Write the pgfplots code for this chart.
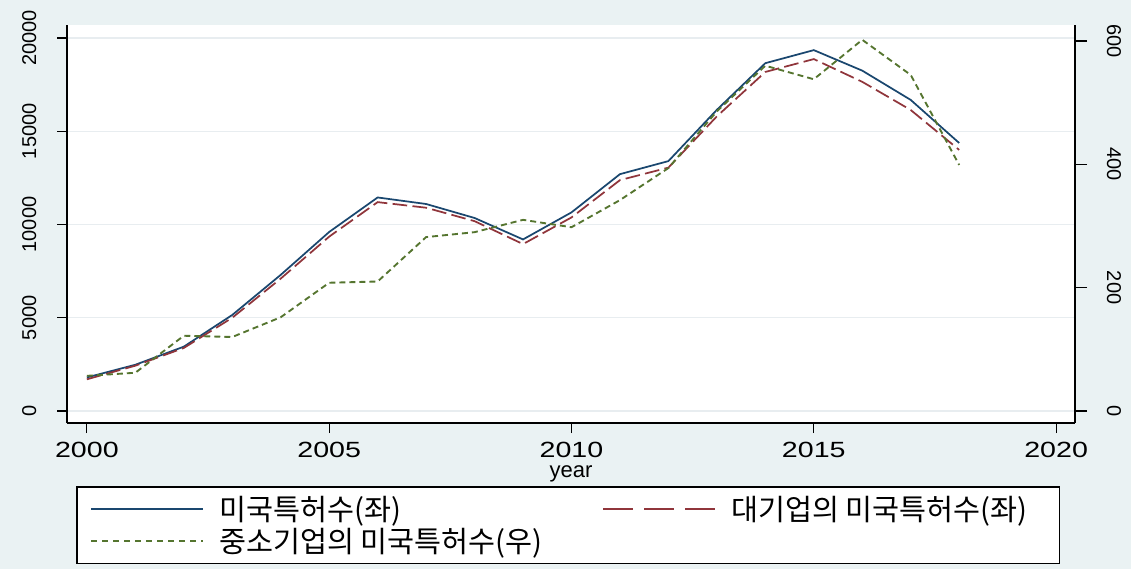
\documentclass[border=0pt]{standalone}
\usepackage{fontspec}
\setmainfont{Liberation Sans}
\newfontfamily\widefont[FakeStretch=1.3]{Liberation Sans}
\newfontfamily\kr{Noto Sans CJK KR}
\usepackage{pgfplots}
\usepackage{pgfplotstable}
\pgfplotsset{compat=1.18}
\definecolor{bg}{RGB}{234,242,243}
\definecolor{sblue}{RGB}{26,71,111}
\definecolor{sred}{RGB}{144,53,59}
\definecolor{sgreen}{RGB}{85,117,47}
\definecolor{gridc}{RGB}{232,237,240}

\pgfplotsset{
  legblue/.style={legend image code/.code={\draw[draw=sblue, line width=1.4pt] (0pt,0pt) -- (84pt,0pt); \path (96pt,0pt);}},
  legred/.style={legend image code/.code={\draw[draw=sred, line width=1.4pt, dash pattern=on 22.5pt off 8.25pt] (0pt,0pt) -- (84pt,0pt); \path (96pt,0pt);}},
  leggreen/.style={legend image code/.code={\draw[draw=sgreen, line width=1.4pt, dash pattern=on 4.5pt off 3.75pt] (0pt,0pt) -- (84pt,0pt); \path (96pt,0pt);}},
}

\pgfplotstableread{
year us big sme
2000 1800 1700 57
2001 2480 2430 62
2002 3450 3380 122
2003 5150 5000 120
2004 7300 7100 152
2005 9600 9350 208
2006 11450 11200 210
2007 11100 10900 282
2008 10350 10180 290
2009 9200 8950 310
2010 10650 10380 298
2011 12700 12380 342
2012 13400 13050 394
2013 16150 15800 486
2014 18650 18180 560
2015 19350 18870 538
2016 18250 17650 602
2017 16680 16140 545
2018 14370 14000 399
}\data

\begin{document}
\begin{tikzpicture}
\fill[bg] (-50.25pt,-109.5pt) rectangle (798pt,317.25pt);
\begin{axis}[
  scale only axis, width=756pt, height=298.5pt,
  xmin=1999.59, xmax=2020.39, ymin=-643, ymax=20697,
  axis x line*=bottom, axis y line*=left,
  axis background/.style={fill=white},
  axis line style={black, line width=0.9pt},
  tick align=outside, major tick length=7.5pt,
  tick style={black, line width=0.9pt},
  xtick={2000,2005,2010,2015,2020},
  ytick={0,5000,10000,15000,20000},
  scaled y ticks=false, scaled x ticks=false,
  ymajorgrids, grid style={gridc, line width=1pt},
  /pgf/number format/1000 sep={},
  /pgf/number format/assume math mode=true,
  xticklabel style={font=\widefont\fontsize{16.5}{18}\selectfont},
  xticklabel shift=3pt,
  yticklabel style={rotate=90, anchor=south, font=\fontsize{15}{18}\selectfont},
  yticklabel shift=12pt,
  xlabel={year},
  xlabel style={font=\fontsize{16.5}{18}\selectfont, at={(axis description cs:0.5,-0.137)}, anchor=base},
]
\addplot[sblue, line width=1.3pt] table[x=year,y=us]{\data};
\addplot[sred, line width=1.3pt, dash pattern=on 11pt off 4pt] table[x=year,y=big]{\data};
\end{axis}
\begin{axis}[
  scale only axis, width=756pt, height=298.5pt,
  xmin=1999.59, xmax=2020.39, ymin=-19.5, ymax=626,
  axis x line=none, axis y line*=right,
  axis line style={black, line width=0.9pt},
  tick align=outside, major tick length=9pt,
  tick style={black, line width=0.9pt},
  ytick={0,200,400,600},
  scaled y ticks=false,
  /pgf/number format/1000 sep={},
  /pgf/number format/assume math mode=true,
  yticklabel style={rotate=-90, anchor=south, font=\fontsize{15}{18}\selectfont},
  yticklabel shift=11.5pt,
  legend columns=2,
  legend cell align=left,
  legend style={at={(axis description cs:0.00992,-0.1608)}, anchor=north west,
    name=leg, draw=none, fill=white,
    inner xsep=9.75pt, inner ysep=4.5pt,
    /tikz/column sep=0pt, /tikz/row sep=0pt,
    font=\kr\fontsize{22}{26}\selectfont,
    nodes={inner sep=0pt, text height=20.2pt, text depth=3.8pt}},
]
\addlegendimage{legblue}
\addlegendentry{\makebox[287pt][l]{미국특허수(좌)}}
\addlegendimage{legred}
\addlegendentry{\makebox[236.25pt][l]{대기업의 미국특허수(좌)}}
\addlegendimage{leggreen}
\addlegendentry{\makebox[287pt][l]{중소기업의 미국특허수(우)}}
\addplot[sgreen, line width=1.4pt, dash pattern=on 4.5pt off 3pt, forget plot] table[x=year,y=sme]{\data};
\end{axis}
\draw[black, line width=0.8pt] (leg.north west) rectangle (leg.south east);
\pgfresetboundingbox
\path (-50.25pt,-109.5pt) rectangle (798pt,317.25pt);
\end{tikzpicture}
\end{document}
